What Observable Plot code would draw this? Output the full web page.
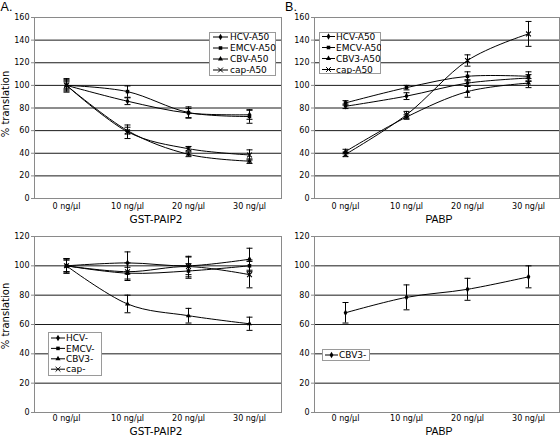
<!DOCTYPE html>
<html><head><meta charset="utf-8">
<script src="https://cdn.jsdelivr.net/npm/d3@7"></script>
<script src="https://cdn.jsdelivr.net/npm/@observablehq/plot@0.6"></script>
<style>
body{margin:0;background:#fff}
#root{position:relative;width:560px;height:440px;overflow:hidden;background:#fff}
.lbl{position:absolute;white-space:nowrap;color:#000;line-height:1;transform:translate(-50%,-50%)}
.abs{position:absolute}
</style>
</head><body><div id="root"></div>
<script>
// ---------- data ----------
const doses = ["0 ng/µl", "10 ng/µl", "20 ng/µl", "30 ng/µl"];
const yTicksTop = [0, 20, 40, 60, 80, 100, 120, 140, 160];
const yTicksBottom = [0, 20, 40, 60, 80, 100, 120];

// Panel A (top): GST-PAIP2, A50 reporters
const seriesA50 = ["HCV-A50", "EMCV-A50", "CBV-A50", "cap-A50"];
const hcvA50 = [100, 86, 75.5, 74];
const hcvA50Err = [5, 3, 4, 4];
const emcvA50 = [100, 94.5, 76, 72.5];
const emcvA50Err = [6, 5, 5, 6];
const cbvA50 = [100, 60, 39, 33];
const cbvA50Err = [4, 3, 2, 2];
const capA50 = [100, 59, 44, 38.5];
const capA50Err = [3, 6, 2, 4.5];

// Panel B (top): PABP, A50 reporters
const seriesB50 = ["HCV-A50", "EMCV-A50", "CBV3-A50", "cap-A50"];
const hcvB50 = [81.5, 90.5, 102, 106.5];
const hcvB50Err = [2, 3, 3, 3];
const emcvB50 = [84.5, 98, 108, 108];
const emcvB50Err = [2, 2, 4, 4];
const cbv3B50 = [41.5, 72, 94.5, 102];
const cbv3B50Err = [2, 2, 5, 4];
const capB50 = [39, 74, 122, 145.5];
const capB50Err = [2, 3, 5, 11];

// Panel A (bottom): GST-PAIP2, no-tail reporters
const seriesA0 = ["HCV-", "EMCV-", "CBV3-", "cap-"];
const hcvA0 = [100, 102, 100, 104.5];
const hcvA0Err = [4, 7.5, 6, 7.5];
const emcvA0 = [100, 95, 96.5, 100];
const emcvA0Err = [5, 4, 5, 4];
const cbv3A0 = [100, 74, 66, 60.5];
const cbv3A0Err = [4, 6, 5, 4.5];
const capA0 = [100, 96, 99.5, 94];
const capA0Err = [5, 6, 7, 9];

// Panel B (bottom): PABP, CBV3-
const seriesB0 = ["CBV3-"];
const cbv3B0 = [68, 78.5, 84, 92.5];
const cbv3B0Err = [7, 8.5, 7.5, 7.5];

const markers = ["diamond", "square", "triangle", "times"];

// ---------- drawing ----------
const root = document.getElementById("root");
const capSymbol = {draw(ctx, size) { const w = Math.sqrt(size / Math.PI); ctx.moveTo(-w, 0); ctx.lineTo(w, 0); }};
const d3sym = {diamond: d3.symbolDiamond, square: d3.symbolSquare, triangle: d3.symbolTriangle, times: d3.symbolTimes};
const markerR = {diamond: 2.0, square: 2.0, triangle: 1.9, times: 2.3};

function panel(o) {
  const data = [];
  o.series.forEach((s, i) => doses.forEach((d, j) => data.push({
    series: s, dose: d, v: o.values[i][j],
    lo: o.values[i][j] - o.errors[i][j], hi: o.values[i][j] + o.errors[i][j],
    sym: o.symbols[i]
  })));
  const dotMarks = o.series.map((s, i) => {
    const sym = o.symbols[i];
    const sub = data.filter(d => d.series === s);
    return sym === "times"
      ? Plot.dot(sub, {x: "dose", y: "v", symbol: sym, r: markerR[sym], stroke: "#000", strokeWidth: 1.1})
      : Plot.dot(sub, {x: "dose", y: "v", symbol: sym, r: markerR[sym], fill: "#000", stroke: "none"});
  });
  const chart = Plot.plot({
    width: o.width, height: o.height,
    marginLeft: o.mL, marginRight: o.mR, marginTop: o.mT, marginBottom: o.mB,
    style: {fontFamily: "DejaVu Sans", fontSize: "8px", background: "transparent", color: "#000", overflow: "visible"},
    x: {type: "point", domain: doses, padding: 0.5},
    y: {domain: [0, o.yMax]},
    marks: [
      Plot.ruleY(o.yTicks.filter(t => t > 0 && t < o.yMax), {stroke: "#1a1a1a", strokeWidth: 1}),
      Plot.frame({stroke: "#8a8a8a"}),
      Plot.axisY(o.yTicks, {tickSize: 3, tickPadding: 2, stroke: "#8a8a8a", label: null}),
      Plot.axisX({tickSize: 0, tickPadding: o.xPad, label: null}),
      Plot.line(data, {x: "dose", y: "v", z: "series", curve: "cardinal", stroke: "#000", strokeWidth: 1}),
      Plot.ruleX(data, {x: "dose", y1: "lo", y2: "hi", stroke: "#000", strokeWidth: 1}),
      Plot.dot(data, {x: "dose", y: "lo", symbol: capSymbol, r: 3, stroke: "#000", fill: "none", strokeWidth: 1}),
      Plot.dot(data, {x: "dose", y: "hi", symbol: capSymbol, r: 3, stroke: "#000", fill: "none", strokeWidth: 1}),
      ...dotMarks
    ]
  });
  chart.classList.add("abs");
  chart.style.left = o.left + "px";
  chart.style.top = o.top + "px";
  root.appendChild(chart);
}

function legend(o) {
  const svg = d3.create("svg").attr("width", o.w).attr("height", o.h)
    .attr("class", "abs").style("left", o.x + "px").style("top", o.y + "px");
  svg.append("rect").attr("x", 0.5).attr("y", 0.5).attr("width", o.w - 1).attr("height", o.h - 1)
    .attr("fill", "#fff").attr("stroke", "#9a9a9a");
  o.series.forEach((s, i) => {
    const cy = o.first + i * o.step;
    const g = svg.append("g");
    g.append("line").attr("x1", o.lx1).attr("x2", o.lx2).attr("y1", cy).attr("y2", cy).attr("stroke", "#000");
    const sym = o.symbols[i];
    const r = markerR[sym];
    g.append("path").attr("transform", `translate(${(o.lx1 + o.lx2) / 2},${cy})`)
      .attr("d", d3.symbol(d3sym[sym], r * r * Math.PI)())
      .attr("fill", sym === "times" ? "none" : "#000").attr("stroke", sym === "times" ? "#000" : "none");
    g.append("text").attr("x", o.tx).attr("y", cy).attr("dy", "0.36em")
      .attr("font-family", "DejaVu Sans").attr("font-size", "9px").text(s);
  });
  root.appendChild(svg.node());
}

function label(text, cx, cy, font, size, rotate) {
  const d = document.createElement("div");
  d.className = "lbl";
  d.textContent = text;
  d.style.left = cx + "px";
  d.style.top = cy + "px";
  d.style.fontFamily = font;
  d.style.fontSize = size + "px";
  if (rotate) d.style.transform = "translate(-50%,-50%) rotate(-90deg)";
  root.appendChild(d);
}

panel({left: 0, top: 0, width: 285, height: 215, mL: 34, mR: 4, mT: 17, mB: 17, yMax: 160, yTicks: yTicksTop, xPad: 5,
  series: seriesA50, symbols: markers,
  values: [hcvA50, emcvA50, cbvA50, capA50], errors: [hcvA50Err, emcvA50Err, cbvA50Err, capA50Err]});
panel({left: 280, top: 0, width: 280, height: 215, mL: 34, mR: 1, mT: 17, mB: 17, yMax: 160, yTicks: yTicksTop, xPad: 5,
  series: seriesB50, symbols: markers,
  values: [hcvB50, emcvB50, cbv3B50, capB50], errors: [hcvB50Err, emcvB50Err, cbv3B50Err, capB50Err]});
panel({left: 0, top: 220, width: 285, height: 210, mL: 34, mR: 4, mT: 16, mB: 18, yMax: 120, yTicks: yTicksBottom, xPad: 3,
  series: seriesA0, symbols: markers,
  values: [hcvA0, emcvA0, cbv3A0, capA0], errors: [hcvA0Err, emcvA0Err, cbv3A0Err, capA0Err]});
panel({left: 280, top: 220, width: 280, height: 210, mL: 34, mR: 1, mT: 16, mB: 18, yMax: 120, yTicks: yTicksBottom, xPad: 3,
  series: seriesB0, symbols: ["diamond"],
  values: [cbv3B0], errors: [cbv3B0Err]});

legend({x: 209, y: 32, w: 67, h: 44, series: seriesA50, symbols: markers, first: 5, step: 11, lx1: 4, lx2: 19, tx: 21});
legend({x: 319, y: 32, w: 62, h: 42, series: seriesB50, symbols: markers, first: 4.5, step: 11, lx1: 3, lx2: 16, tx: 17});
legend({x: 48, y: 332, w: 54, h: 44, series: seriesA0, symbols: markers, first: 6, step: 10.4, lx1: 3, lx2: 17, tx: 18});
legend({x: 322, y: 349, w: 48, h: 12, series: seriesB0, symbols: ["diamond"], first: 6, step: 11, lx1: 3, lx2: 16, tx: 17});

label("A.", 6.5, 7, "Liberation Sans", 12.5);
label("B.", 291, 7, "Liberation Sans", 12.5);
label("% translation", 6, 104, "DejaVu Sans", 10, true);
label("% translation", 6, 316, "DejaVu Sans", 10, true);
label("GST-PAIP2", 156, 219, "DejaVu Sans", 10.5);
label("GST-PAIP2", 156, 431, "DejaVu Sans", 10.5);
label("PABP", 439, 219, "Liberation Sans", 10.5);
label("PABP", 439, 431, "Liberation Sans", 10.5);
</script>
</body></html>
